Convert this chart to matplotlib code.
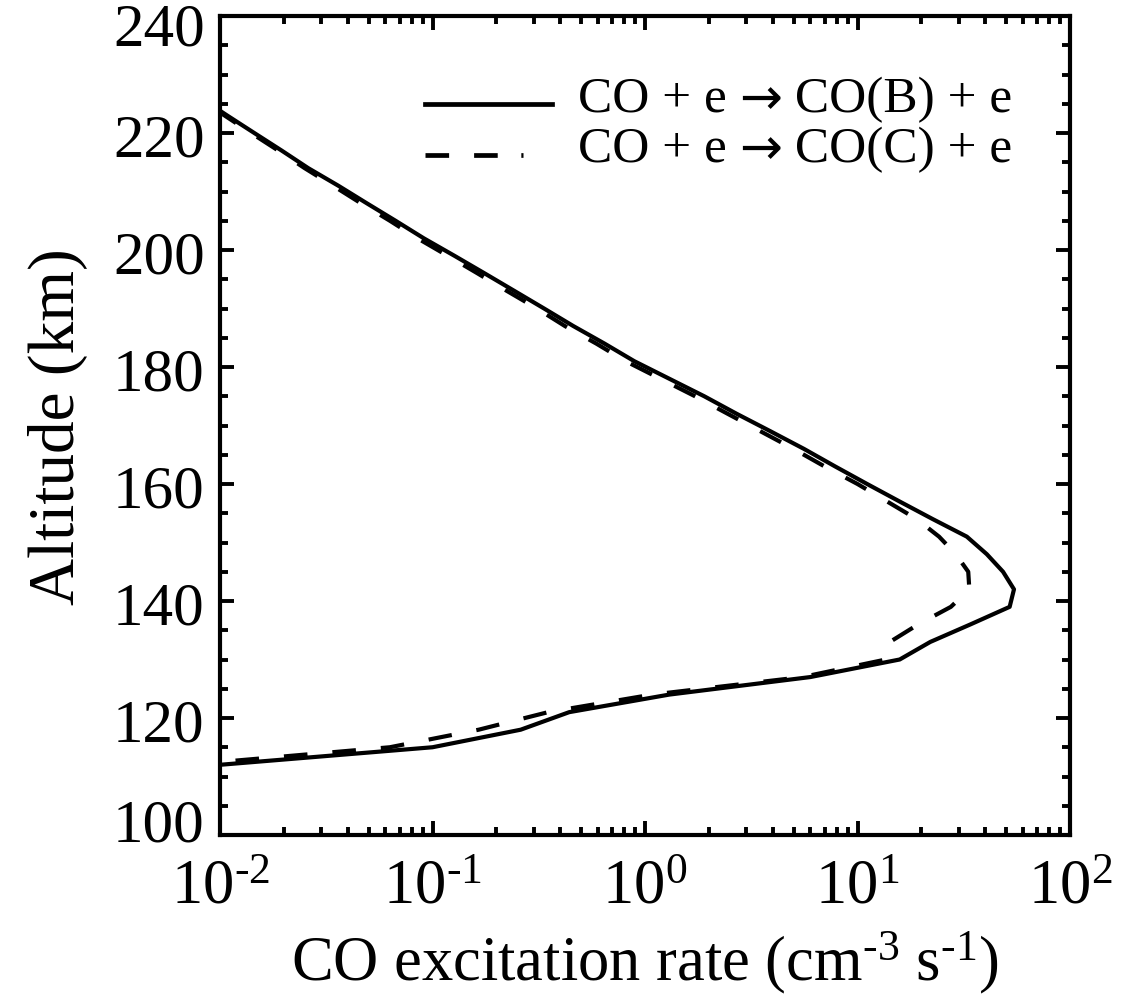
import matplotlib
matplotlib.use('Agg')
import matplotlib.pyplot as plt
from matplotlib.transforms import ScaledTranslation
from matplotlib.ticker import MultipleLocator, LogLocator, NullFormatter, FixedLocator, FixedFormatter

plt.rcParams['font.family'] = ['Liberation Serif', 'DejaVu Serif']
plt.rcParams['mathtext.fontset'] = 'custom'
plt.rcParams['mathtext.rm'] = 'Liberation Serif'
plt.rcParams['mathtext.it'] = 'Liberation Serif:italic'
plt.rcParams['axes.unicode_minus'] = False
plt.rcParams['lines.scale_dashes'] = False

# altitude grid (km)
altitude = [112, 115, 118, 121, 124, 127, 130, 133, 136, 139, 142, 145, 148,
            151, 154, 157, 160, 163, 166, 169, 172, 175, 178, 181, 184, 187,
            190, 193, 196, 199, 202, 205, 208, 211, 214, 217, 220, 223, 226]

# excitation rates (cm^-3 s^-1)
rate_B = [0.0100, 0.10, 0.26, 0.44, 1.3, 6.0, 15.8, 22.0, 34.0, 52.0, 54.5, 48.4, 40.6,
          32.7, 22.6, 15.8, 11.1, 7.85, 5.6, 3.9, 2.7, 1.9, 1.3, 0.89, 0.645, 0.46,
          0.335, 0.243, 0.176, 0.127, 0.091, 0.067, 0.049, 0.036, 0.026, 0.0195, 0.0145, 0.0108, 0.0081]
rate_C = [0.0070, 0.063, 0.165, 0.35, 1.08, 5.5, 13.6, 14.2, 19.3, 27.5, 33.6, 33.2, 29.0,
          24.2, 19.0, 13.8, 10.0, 7.0, 5.0, 3.5, 2.45, 1.72, 1.18, 0.81, 0.59, 0.42,
          0.31, 0.224, 0.163, 0.118, 0.085, 0.063, 0.046, 0.034, 0.025, 0.0188, 0.014, 0.0105, 0.0079]

# reaction labels: left part, arrow, right part
reactions = [('CO + e ', '\u2192', ' CO(B) + e'),
             ('CO + e ', '\u2192', ' CO(C) + e')]

hy = '\u2010'
xticks = [1e-2, 1e-1, 1e0, 1e1, 1e2]
xticklabels = [r'$\mathregular{10^{%s2}}$' % hy, r'$\mathregular{10^{%s1}}$' % hy,
               r'$\mathregular{10^{0}}$', r'$\mathregular{10^{1}}$', r'$\mathregular{10^{2}}$']

fig = plt.figure(figsize=(11.25, 10.03), dpi=100)
ax = fig.add_axes([220 / 1125, 1 - 836 / 1003, 850 / 1125, 819 / 1003])

ax.plot(rate_B, altitude, color='black', lw=3, solid_joinstyle='round')
ax.plot(rate_C, altitude, color='black', lw=3, linestyle=(0, (17, 18)), dash_capstyle='butt')

ax.set_xscale('log')
ax.set_xlim(1e-2, 1e2)
ax.set_ylim(100, 240)

ax.xaxis.set_major_locator(FixedLocator(xticks))
ax.xaxis.set_major_formatter(FixedFormatter(xticklabels))
ax.xaxis.set_minor_locator(LogLocator(base=10, subs=range(2, 10)))
ax.xaxis.set_minor_formatter(NullFormatter())
ax.yaxis.set_major_locator(FixedLocator([100, 120, 140, 160, 180, 200, 220, 240]))
ax.yaxis.set_minor_locator(MultipleLocator(5))

for s in ax.spines.values():
    s.set_linewidth(3)
ax.tick_params(which='both', direction='in', top=True, right=True, width=2.8)
ax.tick_params(which='major', length=10)
ax.tick_params(which='minor', length=5.5)
ax.tick_params(axis='y', which='major', labelsize=44, pad=11)
ax.tick_params(axis='x', which='major', labelsize=45, pad=17)

# keep the end labels clear of the figure edge and the x labels
for tick, val in zip(ax.yaxis.get_major_ticks(), ax.get_yticks()):
    dy = {240: -5, 100: 11}.get(int(val), -1)
    tick.label1.set_transform(tick.label1.get_transform()
                              + ScaledTranslation(0, dy / 72, fig.dpi_scale_trans))

ax.set_ylabel('Altitude (km)', fontsize=47, labelpad=18)
ax.set_xlabel('CO excitation rate (cm$^{\\mathregular{%s3}}$ s$^{\\mathregular{%s1}}$)' % (hy, hy),
              fontsize=45, labelpad=8)

# legend drawn by hand
ax.plot([0.241, 0.391], [0.892, 0.892], color='black', lw=3.4, transform=ax.transAxes)
ax.plot([0.241, 0.356], [0.830, 0.830], color='black', lw=3.4, dash_capstyle='butt',
        linestyle=(0, (17, 18, 17, 17, 2.5, 60)), transform=ax.transAxes)

fig.canvas.draw()
renderer = fig.canvas.get_renderer()
for (left, arrow, right), ypos in zip(reactions, [0.899, 0.838]):
    x0 = ax.transAxes.transform((0.421, ypos))
    t1 = fig.text(x0[0] / fig.bbox.width, x0[1] / fig.bbox.height, left,
                  fontsize=37, va='center', ha='left')
    bb = t1.get_window_extent(renderer)
    t2 = fig.text(bb.x1 / fig.bbox.width, x0[1] / fig.bbox.height, arrow,
                  fontsize=37, va='center', ha='left', family=['DejaVu Sans'])
    bb = t2.get_window_extent(renderer)
    fig.text(bb.x1 / fig.bbox.width, x0[1] / fig.bbox.height, right,
             fontsize=37, va='center', ha='left')

fig.savefig('out.png', dpi=100)
